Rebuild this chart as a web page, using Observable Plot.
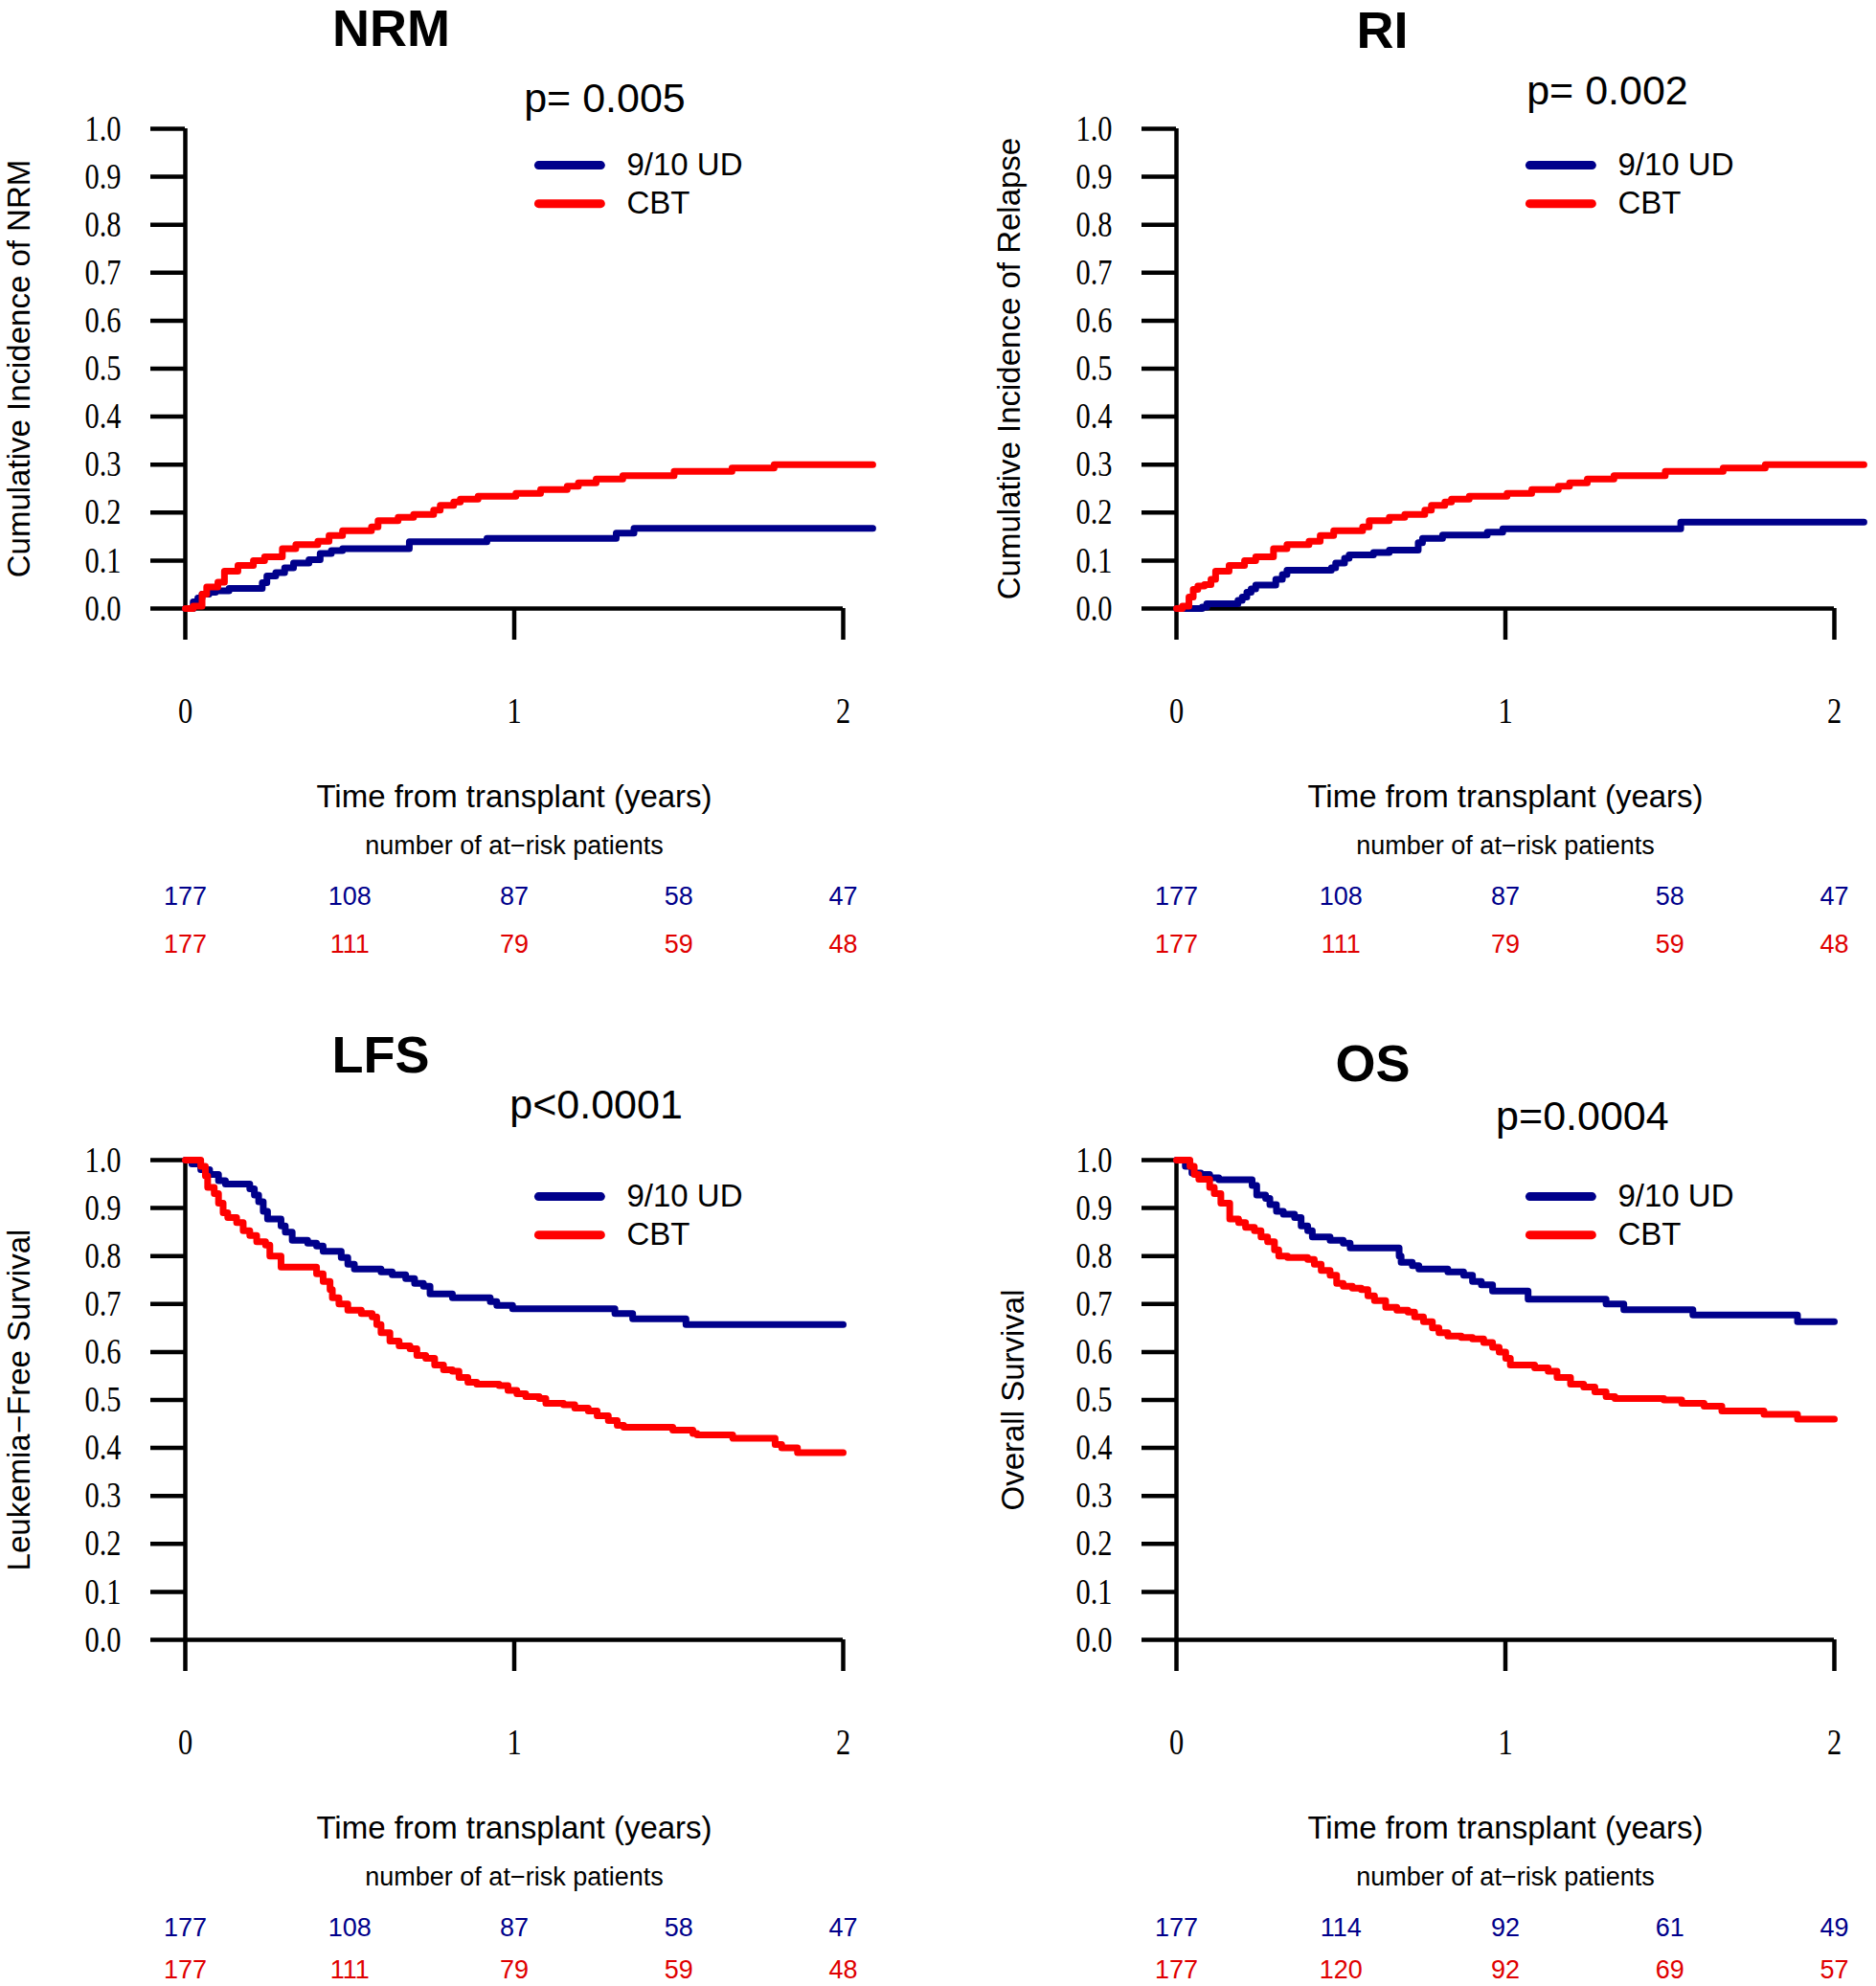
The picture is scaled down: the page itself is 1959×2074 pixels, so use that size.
<!DOCTYPE html>
<html>
<head>
<meta charset="utf-8">
<script src="https://cdn.jsdelivr.net/npm/d3@7"></script>
<script src="https://cdn.jsdelivr.net/npm/@observablehq/plot@0.6"></script>
<style>
  html, body { margin: 0; padding: 0; background: #fff; }
  #wrap { position: relative; width: 1959px; height: 2074px; overflow: hidden; background: #fff; }
  .panel { position: absolute; }
</style>
</head>
<body>
<div id="wrap"></div>
<script>
// ---------------- DATA ----------------
const groups = ["9/10 UD", "CBT"];
const groupColors = ["#00008b", "#ff0000"];
const yTicks = [0, 0.1, 0.2, 0.3, 0.4, 0.5, 0.6, 0.7, 0.8, 0.9, 1.0];
const xTicks = [0, 1, 2];
const atRiskTimes = [0, 0.5, 1, 1.5, 2];

const titles = ["NRM", "RI", "LFS", "OS"];
const pValues = ["p= 0.005", "p= 0.002", "p<0.0001", "p=0.0004"];
const yLabels = ["Cumulative Incidence of NRM", "Cumulative Incidence of Relapse", "Leukemia\u2212Free Survival", "Overall Survival"];
const xLabel = "Time from transplant (years)";
const atRiskLabel = "number of at\u2212risk patients";

const nrmRiskUD  = [177, 108, 87, 58, 47];
const nrmRiskCBT = [177, 111, 79, 59, 48];
const riRiskUD   = [177, 108, 87, 58, 47];
const riRiskCBT  = [177, 111, 79, 59, 48];
const lfsRiskUD  = [177, 108, 87, 58, 47];
const lfsRiskCBT = [177, 111, 79, 59, 48];
const osRiskUD   = [177, 114, 92, 61, 49];
const osRiskCBT  = [177, 120, 92, 69, 57];

// [time (years), value]
const nrmUD = [[0,0],[0.024,0.014],[0.038,0.022],[0.051,0.03],[0.072,0.034],[0.092,0.037],[0.133,0.042],[0.234,0.054],[0.248,0.068],[0.275,0.075],[0.302,0.085],[0.329,0.095],[0.376,0.102],[0.41,0.115],[0.444,0.121],[0.478,0.125],[0.681,0.139],[0.917,0.146],[1.31,0.157],[1.364,0.167],[2.09,0.167]];
const nrmCBT = [[0,0],[0.024,0.005],[0.051,0.03],[0.065,0.045],[0.099,0.055],[0.119,0.078],[0.16,0.09],[0.207,0.1],[0.241,0.108],[0.295,0.125],[0.336,0.133],[0.403,0.14],[0.437,0.152],[0.478,0.162],[0.566,0.17],[0.586,0.183],[0.647,0.19],[0.694,0.196],[0.755,0.205],[0.775,0.215],[0.816,0.222],[0.836,0.228],[0.89,0.234],[1.005,0.24],[1.08,0.248],[1.161,0.255],[1.195,0.262],[1.249,0.27],[1.33,0.277],[1.486,0.286],[1.662,0.293],[1.79,0.3],[2.09,0.3]];
const riUD = [[0,0],[0.078,0.003],[0.092,0.01],[0.187,0.017],[0.2,0.024],[0.214,0.034],[0.227,0.041],[0.241,0.049],[0.302,0.061],[0.322,0.071],[0.336,0.08],[0.471,0.085],[0.484,0.095],[0.511,0.105],[0.525,0.112],[0.599,0.117],[0.647,0.122],[0.735,0.137],[0.748,0.146],[0.809,0.153],[0.945,0.159],[0.992,0.166],[1.533,0.18],[2.09,0.18]];
const riCBT = [[0,0],[0.018,0.005],[0.038,0.024],[0.051,0.04],[0.065,0.047],[0.085,0.05],[0.105,0.061],[0.119,0.078],[0.16,0.09],[0.207,0.1],[0.241,0.108],[0.295,0.125],[0.336,0.133],[0.403,0.14],[0.437,0.152],[0.478,0.162],[0.566,0.17],[0.586,0.183],[0.647,0.19],[0.694,0.196],[0.755,0.205],[0.775,0.215],[0.816,0.222],[0.836,0.228],[0.89,0.234],[1.005,0.24],[1.08,0.248],[1.161,0.255],[1.195,0.262],[1.249,0.27],[1.33,0.277],[1.486,0.286],[1.662,0.293],[1.79,0.3],[2.09,0.3]];
const lfsUD = [[0,1],[0.02,0.992],[0.047,0.98],[0.074,0.97],[0.101,0.957],[0.122,0.95],[0.196,0.94],[0.21,0.927],[0.223,0.913],[0.237,0.893],[0.25,0.877],[0.291,0.863],[0.304,0.85],[0.325,0.833],[0.372,0.827],[0.399,0.821],[0.419,0.81],[0.474,0.797],[0.494,0.783],[0.514,0.773],[0.595,0.767],[0.629,0.761],[0.67,0.753],[0.697,0.743],[0.724,0.737],[0.744,0.721],[0.812,0.713],[0.927,0.705],[0.947,0.697],[0.995,0.69],[1.306,0.68],[1.36,0.669],[1.522,0.657],[2,0.657]];
const lfsCBT = [[0,1],[0.041,1],[0.047,0.987],[0.061,0.967],[0.068,0.943],[0.088,0.93],[0.101,0.91],[0.115,0.89],[0.129,0.88],[0.156,0.87],[0.176,0.853],[0.196,0.843],[0.217,0.83],[0.244,0.823],[0.257,0.8],[0.291,0.777],[0.399,0.763],[0.419,0.747],[0.44,0.73],[0.447,0.713],[0.467,0.7],[0.494,0.687],[0.535,0.68],[0.568,0.673],[0.582,0.657],[0.595,0.64],[0.622,0.623],[0.65,0.613],[0.683,0.607],[0.704,0.593],[0.731,0.587],[0.758,0.573],[0.785,0.563],[0.812,0.56],[0.832,0.547],[0.859,0.537],[0.886,0.533],[0.954,0.53],[0.981,0.52],[1.008,0.513],[1.035,0.507],[1.076,0.503],[1.096,0.493],[1.15,0.49],[1.184,0.483],[1.225,0.477],[1.252,0.467],[1.286,0.457],[1.313,0.447],[1.333,0.443],[1.482,0.437],[1.543,0.43],[1.556,0.427],[1.664,0.42],[1.793,0.407],[1.813,0.4],[1.861,0.39],[2,0.39]];
const osUD = [[0,1],[0.027,0.987],[0.047,0.973],[0.074,0.97],[0.101,0.963],[0.129,0.959],[0.23,0.947],[0.244,0.927],[0.271,0.92],[0.284,0.907],[0.304,0.893],[0.325,0.887],[0.359,0.88],[0.379,0.863],[0.399,0.853],[0.413,0.84],[0.467,0.833],[0.507,0.827],[0.528,0.817],[0.677,0.8],[0.683,0.787],[0.717,0.78],[0.737,0.773],[0.825,0.767],[0.873,0.76],[0.9,0.747],[0.927,0.74],[0.961,0.727],[1.069,0.71],[1.306,0.7],[1.36,0.688],[1.57,0.677],[1.888,0.663],[2,0.663]];
const osCBT = [[0,1],[0.034,1],[0.041,0.987],[0.054,0.97],[0.068,0.96],[0.101,0.943],[0.115,0.93],[0.135,0.91],[0.162,0.877],[0.189,0.87],[0.21,0.86],[0.237,0.853],[0.257,0.84],[0.277,0.83],[0.298,0.813],[0.311,0.8],[0.338,0.797],[0.399,0.793],[0.419,0.783],[0.44,0.77],[0.467,0.76],[0.487,0.743],[0.507,0.737],[0.535,0.733],[0.562,0.73],[0.582,0.717],[0.602,0.707],[0.636,0.693],[0.67,0.687],[0.704,0.683],[0.724,0.673],[0.751,0.663],[0.778,0.65],[0.798,0.64],[0.825,0.633],[0.866,0.63],[0.9,0.627],[0.934,0.62],[0.961,0.61],[0.981,0.6],[1.001,0.587],[1.015,0.573],[1.089,0.567],[1.13,0.56],[1.157,0.547],[1.198,0.533],[1.238,0.527],[1.272,0.517],[1.306,0.507],[1.333,0.503],[1.482,0.5],[1.536,0.493],[1.604,0.487],[1.658,0.477],[1.786,0.47],[1.888,0.46],[2,0.46]];

// ---------------- LAYOUT ----------------
const panels = [
  {left: 0,    top: 0,    ud: nrmUD, cbt: nrmCBT, riskUD: nrmRiskUD, riskCBT: nrmRiskCBT, title: [0.626, 1.208], p: [1.275, 1.062], ylab: -0.503, redRow: -0.70},
  {left: 1035, top: 0,    ud: riUD,  cbt: riCBT,  riskUD: riRiskUD,  riskCBT: riRiskCBT,  title: [0.626, 1.203], p: [1.31, 1.078],  ylab: -0.508, redRow: -0.70},
  {left: 0,    top: 1077, ud: lfsUD, cbt: lfsCBT, riskUD: lfsRiskUD, riskCBT: lfsRiskCBT, title: [0.594, 1.218], p: [1.249, 1.114], ylab: -0.503, redRow: -0.688},
  {left: 1035, top: 1077, ud: osUD,  cbt: osCBT,  riskUD: osRiskUD,  riskCBT: osRiskCBT,  title: [0.597, 1.2],   p: [1.234, 1.09],  ylab: -0.495, redRow: -0.688}
];

const sans = "'Liberation Sans', Arial, sans-serif";
const serif = "'Liberation Serif', 'Times New Roman', serif";

function toRows(arr, group) { return arr.map(([t, v]) => ({t, v, group})); }

panels.forEach((p, i) => {
  const curves = [...toRows(p.ud, groups[0]), ...toRows(p.cbt, groups[1])];
  const legendY = [0.924, 0.844];
  const legend = groups.map((g, k) => ({g, y: legendY[k]}));
  const chart = Plot.plot({
    width: 980,
    height: 1000,
    marginLeft: 193,
    marginRight: 100,
    marginTop: 134,
    marginBottom: 365,
    x: {domain: [0, 2]},
    y: {domain: [0, 1]},
    color: {domain: groups, range: groupColors},
    style: {fontFamily: serif, fontSize: "38px", background: "transparent", color: "#000", overflow: "visible"},
    marks: [
      Plot.axisY({ticks: yTicks, tickSize: 36, tickPadding: 31, tickFormat: d3.format(".1f"), strokeWidth: 4.5, label: null, fontSize: 38}),
      Plot.axisX({ticks: xTicks, tickSize: 33, tickPadding: 60, tickFormat: d3.format("d"), strokeWidth: 4.5, label: null, fontSize: 38}),
      Plot.ruleY([0], {strokeWidth: 4.5}),
      Plot.ruleX([0], {strokeWidth: 4.5}),
      Plot.line(curves, {x: "t", y: "v", z: "group", stroke: "group", curve: "step-after", strokeWidth: 7}),
      // legend
      Plot.link(legend, {x1: 1.074, x2: 1.263, y1: "y", y2: "y", stroke: "g", strokeWidth: 9, strokeLinecap: "round"}),
      Plot.text(legend, {x: 1.342, y: "y", text: "g", textAnchor: "start", fontFamily: sans, fontSize: 33, fill: "#000"}),
      // title and p value
      Plot.text([titles[i]], {x: p.title[0], y: p.title[1], text: d => d, fontFamily: sans, fontSize: 54, fontWeight: "bold", fill: "#000"}),
      Plot.text([pValues[i]], {x: p.p[0], y: p.p[1], text: d => d, fontFamily: sans, fontSize: 43, fill: "#000"}),
      // y label
      Plot.text([yLabels[i]], {x: p.ylab, y: 0.5, text: d => d, rotate: -90, fontFamily: sans, fontSize: 33, fill: "#000"}),
      // x label and at-risk table
      Plot.text([xLabel], {x: 1, y: -0.393, text: d => d, fontFamily: sans, fontSize: 33, fill: "#000"}),
      Plot.text([atRiskLabel], {x: 1, y: -0.495, text: d => d, fontFamily: sans, fontSize: 27, fill: "#000"}),
      Plot.text(p.riskUD, {x: (d, j) => atRiskTimes[j], y: -0.60, text: d => String(d), fontFamily: sans, fontSize: 27, fill: groupColors[0]}),
      Plot.text(p.riskCBT, {x: (d, j) => atRiskTimes[j], y: p.redRow, text: d => String(d), fontFamily: sans, fontSize: 27, fill: "#e00000"})
    ]
  });
  // narrow serif tick labels, as in the original figure
  chart.querySelectorAll('[aria-label="y-axis tick label"] text, [aria-label="x-axis tick label"] text').forEach(t => {
    const tr = t.getAttribute("transform");
    if (tr) t.setAttribute("transform", tr + " scale(0.8,1)");
  });
  chart.classList.add("panel");
  chart.style.left = p.left + "px";
  chart.style.top = p.top + "px";
  chart.style.maxWidth = "none";
  document.getElementById("wrap").appendChild(chart);
});
</script>
</body>
</html>
